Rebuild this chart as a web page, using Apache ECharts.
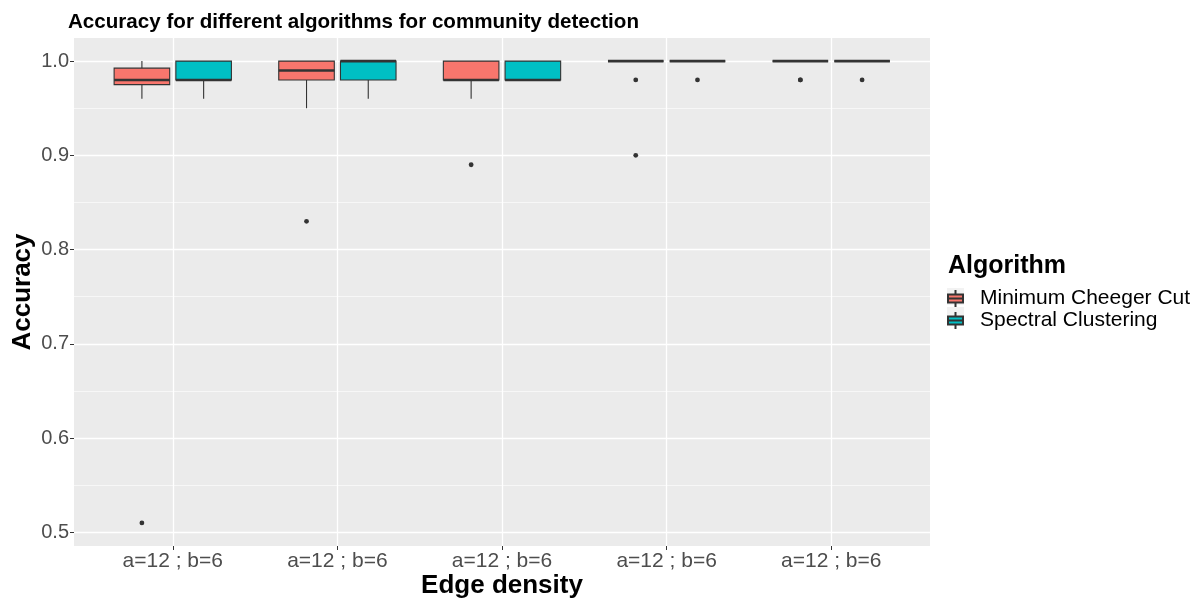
<!DOCTYPE html>
<html>
<head>
<meta charset="utf-8">
<script src="https://cdn.jsdelivr.net/npm/echarts@6/dist/echarts.min.js"></script>
<style>
  html, body { margin: 0; padding: 0; background: #fff; }
  #chart { width: 1203px; height: 600px; }
</style>
</head>
<body>
<div id="chart"></div>
<script>
// ---- Data ----
const categories = ['a=12 ; b=6', 'a=12 ; b=6', 'a=12 ; b=6', 'a=12 ; b=6', 'a=12 ; b=6'];
const algorithms = ['Minimum Cheeger Cut', 'Spectral Clustering'];
const colors = ['#F8766D', '#00BFC4'];

// five-number summaries per group: [lower whisker, Q1, median, Q3, upper whisker]
const mccStats = [
  [0.96, 0.975, 0.98, 0.9925, 1.00],
  [0.95, 0.98, 0.99, 1.00, 1.00],
  [0.96, 0.98, 0.98, 1.00, 1.00],
  [1.00, 1.00, 1.00, 1.00, 1.00],
  [1.00, 1.00, 1.00, 1.00, 1.00]
];
const scStats = [
  [0.96, 0.98, 0.98, 1.00, 1.00],
  [0.96, 0.98, 1.00, 1.00, 1.00],
  [0.98, 0.98, 0.98, 1.00, 1.00],
  [1.00, 1.00, 1.00, 1.00, 1.00],
  [1.00, 1.00, 1.00, 1.00, 1.00]
];
const mccOutliers = [[0.51], [0.83], [0.89], [0.98, 0.90], [0.98, 0.98]];
const scOutliers = [[], [], [], [0.98], [0.98]];

const yTicks = [0.5, 0.6, 0.7, 0.8, 0.9, 1.0];
const yMinor = [0.55, 0.65, 0.75, 0.85, 0.95];
const xTicks = [1, 2, 3, 4, 5];

// ---- Rendering ----
const FONT = 'Liberation Sans, Arial, sans-serif';
const DODGE = 0.1875;
const BOXW = 0.3375;

function makeRender(stats, outliers, offset, color) {
  return function (params, api) {
    const i = params.dataIndex;
    const s = stats[i];
    const x = i + 1 + offset;
    const half = api.size([BOXW, 0])[0] / 2;
    const pLo = api.coord([x, s[0]]);
    const pQ1 = api.coord([x, s[1]]);
    const pMed = api.coord([x, s[2]]);
    const pQ3 = api.coord([x, s[3]]);
    const pHi = api.coord([x, s[4]]);
    const cx = pMed[0];
    const children = [];
    if (pLo[1] - pQ1[1] > 0.5) {
      children.push({ type: 'line', shape: { x1: cx, y1: pQ1[1], x2: cx, y2: pLo[1] },
        style: { stroke: '#333333', lineWidth: 1.1 } });
    }
    if (pQ3[1] - pHi[1] > 0.5) {
      children.push({ type: 'line', shape: { x1: cx, y1: pQ3[1], x2: cx, y2: pHi[1] },
        style: { stroke: '#333333', lineWidth: 1.1 } });
    }
    children.push({ type: 'rect',
      shape: { x: cx - half, y: pQ3[1], width: half * 2, height: Math.max(0, pQ1[1] - pQ3[1]) },
      style: { fill: color, stroke: '#333333', lineWidth: 1.1 } });
    children.push({ type: 'line', shape: { x1: cx - half, y1: pMed[1], x2: cx + half, y2: pMed[1] },
      style: { stroke: '#333333', lineWidth: 2.6 } });
    (outliers[i] || []).forEach(function (v) {
      const p = api.coord([x, v]);
      children.push({ type: 'circle', shape: { cx: p[0], cy: p[1], r: 2.4 },
        style: { fill: '#333333' } });
    });
    return { type: 'group', children: children };
  };
}

function seriesData(stats) {
  return stats.map(function (s, i) { return [i + 1].concat(s); });
}

const chart = echarts.init(document.getElementById('chart'), null, { renderer: 'canvas' });
chart.setOption({
  animation: false,
  backgroundColor: '#ffffff',
  title: {
    text: 'Accuracy for different algorithms for community detection',
    left: 63, top: 7,
    textStyle: { fontFamily: FONT, fontSize: 20.6, fontWeight: 'bold', color: '#000' }
  },
  legend: {
    orient: 'vertical',
    left: 942, top: 283,
    data: algorithms,
    itemWidth: 17, itemHeight: 17, itemGap: 1,
    icon: 'path://M1,4.5 H16 V12.5 H1 Z M8.5,0 V4.5 M8.5,12.5 V17 M1,8.5 H16',
    textStyle: { fontFamily: FONT, fontSize: 21, color: '#000', lineHeight: 17, padding: [0, 0, 0, 11] },
    z: 5
  },
  graphic: [
    { type: 'text', left: 948, top: 254, z: 5,
      style: { text: 'Algorithm', fontFamily: FONT, fontSize: 25, fontWeight: 'bold', fill: '#000' } },
    { type: 'rect', left: 947, top: 288, z: 1, shape: { width: 17, height: 17 }, style: { fill: '#F2F2F2' } },
    { type: 'rect', left: 947, top: 307, z: 1, shape: { width: 17, height: 17 }, style: { fill: '#F2F2F2' } }
  ],
  grid: {
    left: 74, right: 273, top: 38, bottom: 54,
    outerBoundsMode: 'none', containLabel: false,
    show: true, backgroundColor: '#EBEBEB', borderWidth: 0
  },
  xAxis: {
    type: 'value', min: 0.4, max: 5.6,
    name: 'Edge density', nameLocation: 'middle', nameGap: 27, nameMoveOverlap: false,
    nameTextStyle: { fontFamily: FONT, fontSize: 26, fontWeight: 'bold', color: '#000' },
    axisLine: { show: false },
    axisTick: { show: true, length: 4, lineStyle: { color: '#333333' }, customValues: xTicks },
    axisLabel: { customValues: xTicks, margin: 5, fontFamily: FONT, fontSize: 21, color: '#4D4D4D',
      formatter: function (v) { return categories[Math.round(v) - 1]; } },
    splitLine: { show: true, lineStyle: { color: '#FFFFFF', width: 1.3 } }
  },
  yAxis: [
    {
      type: 'value', min: 0.4855, max: 1.0245,
      name: 'Accuracy', nameLocation: 'middle', nameGap: 38, nameRotate: 90, nameMoveOverlap: false,
      nameTextStyle: { fontFamily: FONT, fontSize: 26, fontWeight: 'bold', color: '#000' },
      axisLine: { show: false },
      axisTick: { show: true, length: 4, lineStyle: { color: '#333333' }, customValues: yTicks },
      axisLabel: { customValues: yTicks, margin: 5, fontFamily: FONT, fontSize: 20, color: '#4D4D4D',
        formatter: function (v) { return v.toFixed(1); } },
      splitLine: { show: true, lineStyle: { color: '#FFFFFF', width: 1.3 } }
    },
    {
      type: 'value', min: 0.4855, max: 1.0245, position: 'left',
      axisLine: { show: false },
      axisTick: { show: false, customValues: yMinor },
      axisLabel: { show: false, customValues: yMinor },
      splitLine: { show: true, lineStyle: { color: '#FFFFFF', width: 0.6 } }
    }
  ],
  series: [
    {
      name: algorithms[0], type: 'custom',
      renderItem: makeRender(mccStats, mccOutliers, -DODGE, colors[0]),
      data: seriesData(mccStats), encode: { x: 0, y: [1, 2, 3, 4, 5] },
      itemStyle: { color: colors[0], borderColor: '#333333', borderWidth: 1 },
      z: 3
    },
    {
      name: algorithms[1], type: 'custom',
      renderItem: makeRender(scStats, scOutliers, DODGE, colors[1]),
      data: seriesData(scStats), encode: { x: 0, y: [1, 2, 3, 4, 5] },
      itemStyle: { color: colors[1], borderColor: '#333333', borderWidth: 1 },
      z: 3
    }
  ]
});
</script>
</body>
</html>
